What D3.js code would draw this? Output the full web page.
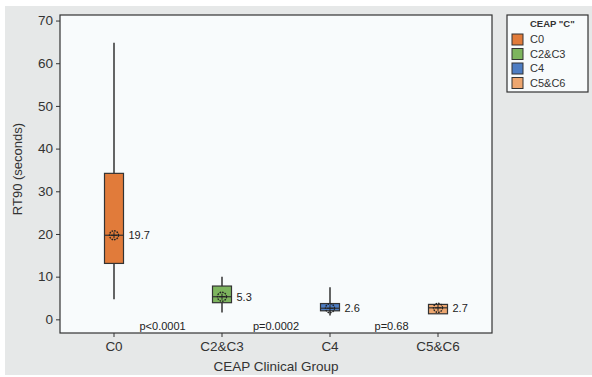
<!DOCTYPE html>
<html>
<head>
  <meta charset="UTF-8">
  <style>
    body { margin: 0; background: white; }
    svg { font-family: Arial, "Liberation Sans", sans-serif; }
  </style>
</head>
<body>
<svg></svg>
<script src="https://d3js.org/d3.v7.min.js"></script>
<script>
const width = 592, height = 377;

// values
const groups = ["C0", "C2&C3", "C4", "C5&C6"];
const colors = ["#E17B3A", "#7DB55E", "#4D7DC3", "#EDA66F"];
const q1 = [13.1, 3.9, 2.0, 1.3];
const q3 = [34.2, 7.8, 3.7, 3.5];
const medians = [19.7, 5.3, 2.6, 2.7];
const whiskLow = [4.7, 1.6, 0.9, 1.3];
const whiskHigh = [64.8, 10.0, 7.5, 3.5];
const pLabels = ["p<0.0001", "p=0.0002", "p=0.68"];
const pPos = [0.45, 1.5, 2.57];   // in group units, between the boxes
const yTicks = [0, 10, 20, 30, 40, 50, 60, 70];

const svg = d3.select("svg")
    .attr("width", width)
    .attr("height", height);

// grey panel
svg.append("rect")
    .attr("x", 5).attr("y", 6)
    .attr("width", width - 5).attr("height", 369)
    .attr("fill", "#E6E8E8");

const plot = { left: 60, top: 15, right: 492, bottom: 333 };

svg.append("rect")
    .attr("x", plot.left).attr("y", plot.top)
    .attr("width", plot.right - plot.left)
    .attr("height", plot.bottom - plot.top)
    .attr("fill", "#F8FBFC")
    .attr("stroke", "#333")
    .attr("stroke-width", 1.2);

const x = d3.scaleBand()
    .domain(groups)
    .range([plot.left, plot.right]);

const xPos = d3.scaleLinear()
    .domain([-0.5, groups.length - 0.5])
    .range([plot.left, plot.right]);

const y = d3.scaleLinear()
    .domain([-3.2, 71.3])
    .range([plot.bottom, plot.top]);

// axes
const yAxis = svg.append("g")
    .attr("transform", `translate(${plot.left},0)`)
    .call(d3.axisLeft(y).tickValues(yTicks).tickSize(4).tickPadding(3));
yAxis.select(".domain").remove();
yAxis.selectAll("line").attr("stroke", "#333");
yAxis.selectAll("text").attr("fill", "#333").style("font-size", "13.5px");

const xAxis = svg.append("g")
    .attr("transform", `translate(0,${plot.bottom})`)
    .call(d3.axisBottom(x).tickSize(4).tickPadding(4));
xAxis.select(".domain").remove();
xAxis.selectAll("line").attr("stroke", "#333");
xAxis.selectAll("text").attr("fill", "#333").style("font-size", "13.5px");

svg.append("text")
    .attr("transform", `translate(22,${(plot.top + plot.bottom) / 2 - 5}) rotate(-90)`)
    .attr("text-anchor", "middle")
    .attr("fill", "#333")
    .style("font-size", "13px")
    .text("RT90 (seconds)");

svg.append("text")
    .attr("x", (plot.left + plot.right) / 2)
    .attr("y", 371)
    .attr("text-anchor", "middle")
    .attr("fill", "#333")
    .style("font-size", "13.5px")
    .text("CEAP Clinical Group");

// boxes
const boxW = 19;
const idx = d3.range(groups.length);
const g = svg.append("g");
const cx = i => x(groups[i]) + x.bandwidth() / 2;

g.selectAll(".whisk")
    .data(idx)
    .join("line")
    .attr("x1", cx).attr("x2", cx)
    .attr("y1", i => y(whiskLow[i]))
    .attr("y2", i => y(whiskHigh[i]))
    .attr("stroke", "#333")
    .attr("stroke-width", 1.5);

g.selectAll(".box")
    .data(idx)
    .join("rect")
    .attr("x", i => cx(i) - boxW / 2)
    .attr("y", i => y(q3[i]))
    .attr("width", boxW)
    .attr("height", i => y(q1[i]) - y(q3[i]))
    .attr("fill", i => colors[i])
    .attr("stroke", "#333")
    .attr("stroke-width", 1.2);

g.selectAll(".med")
    .data(idx)
    .join("line")
    .attr("x1", i => cx(i) - boxW / 2)
    .attr("x2", i => cx(i) + boxW / 2)
    .attr("y1", i => y(medians[i]))
    .attr("y2", i => y(medians[i]))
    .attr("stroke", "#333")
    .attr("stroke-width", 1.2);

// mean symbol: dotted circle with a cross
const sym = g.selectAll(".sym")
    .data(idx)
    .join("g")
    .attr("transform", i => `translate(${cx(i)},${y(medians[i])})`);
sym.append("circle")
    .attr("r", 4.5)
    .attr("fill", "none")
    .attr("stroke", "#222")
    .attr("stroke-width", 1.4)
    .attr("stroke-dasharray", "1.6,1");
sym.append("path")
    .attr("d", "M-3,0H3M0,-3V3")
    .attr("stroke", "#222")
    .attr("stroke-width", 1);

g.selectAll(".lab")
    .data(idx)
    .join("text")
    .attr("x", i => cx(i) + boxW / 2 + 5)
    .attr("y", i => y(medians[i]))
    .attr("dy", "0.35em")
    .attr("fill", "#222")
    .style("font-size", "11px")
    .text(i => medians[i]);

svg.selectAll(".pval")
    .data(pLabels)
    .join("text")
    .attr("x", (d, i) => xPos(pPos[i]))
    .attr("y", y(-1.6))
    .attr("dy", "0.35em")
    .attr("text-anchor", "middle")
    .attr("fill", "#222")
    .style("font-size", "11px")
    .text(d => d);

// legend
const legend = svg.append("g")
    .attr("transform", "translate(507,15)");
legend.append("rect")
    .attr("width", 81).attr("height", 77)
    .attr("fill", "#F8FBFC")
    .attr("stroke", "#333")
    .attr("stroke-width", 1.2);
legend.append("text")
    .attr("x", 23).attr("y", 12)
    .attr("fill", "#333")
    .style("font-size", "9.5px")
    .style("font-weight", "bold")
    .text('CEAP "C"');
const items = legend.selectAll(".item")
    .data(groups)
    .join("g")
    .attr("transform", (d, i) => `translate(5,${19 + i * 14.5})`);
items.append("rect")
    .attr("width", 11).attr("height", 11)
    .attr("fill", (d, i) => colors[i])
    .attr("stroke", "#333")
    .attr("stroke-width", 1);
items.append("text")
    .attr("x", 18).attr("y", 5.5)
    .attr("dy", "0.35em")
    .attr("fill", "#333")
    .style("font-size", "11px")
    .text(d => d);
</script>
</body>
</html>
